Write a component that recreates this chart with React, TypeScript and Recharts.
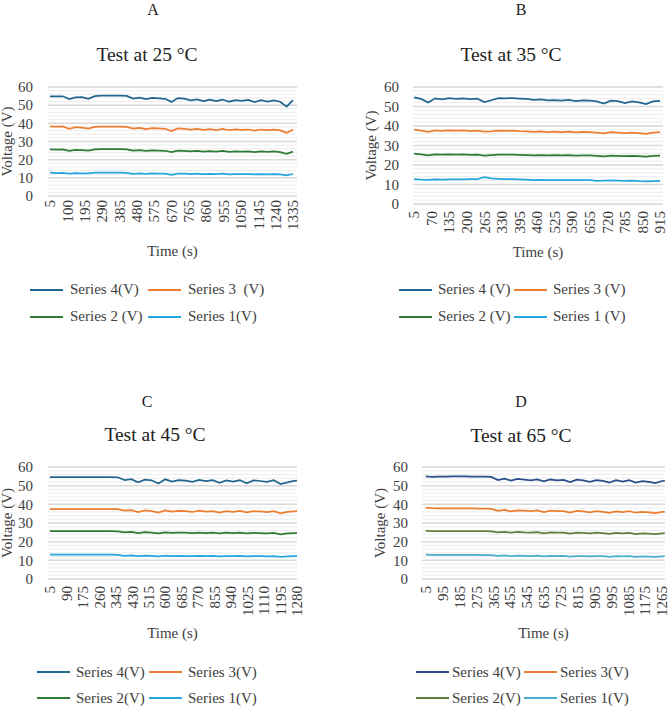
import React from 'react';
import { LineChart, Line, XAxis, YAxis, CartesianGrid, Legend } from 'recharts';

const FONT = '"Liberation Serif", Tinos, "Times New Roman", Times, "DejaVu Serif", serif';

// time stamps (s) for each test
const timeA = [5, 40, 75, 110, 145, 180, 215, 250, 285, 320, 355, 390, 425, 460, 495, 530, 565, 600, 635, 670, 705, 740, 775, 810, 845, 880, 915, 950, 985, 1020, 1055, 1090, 1125, 1160, 1195, 1230, 1265, 1300, 1335];
const timeB = [5, 31, 57, 83, 109, 135, 161, 187, 213, 239, 265, 291, 317, 343, 369, 395, 421, 447, 473, 499, 525, 551, 577, 603, 629, 655, 681, 707, 733, 759, 785, 811, 837, 863, 889, 915];
const timeC = [5, 40, 75, 110, 145, 180, 215, 250, 285, 320, 355, 390, 425, 460, 495, 530, 565, 600, 635, 670, 705, 740, 775, 810, 845, 880, 915, 950, 985, 1020, 1055, 1090, 1125, 1160, 1195, 1230, 1265, 1280];
const timeD = [5, 40, 75, 110, 145, 180, 215, 250, 285, 320, 355, 390, 425, 460, 495, 530, 565, 600, 635, 670, 705, 740, 775, 810, 845, 880, 915, 950, 985, 1020, 1055, 1090, 1125, 1160, 1195, 1230, 1265, 1280];

// 25 °C
const s4A = [54.9, 54.8, 54.9, 53.4, 54.3, 54.4, 53.5, 55.0, 55.2, 55.2, 55.2, 55.2, 55.1, 53.6, 54.2, 53.3, 54.0, 53.8, 53.5, 51.8, 53.9, 53.6, 52.6, 53.2, 52.2, 53.0, 52.3, 53.1, 51.9, 52.8, 52.4, 52.9, 51.7, 52.7, 52.0, 52.6, 51.9, 49.2, 52.8];
const s3A = [38.3, 38.2, 38.3, 37.0, 37.9, 37.6, 37.1, 38.1, 38.2, 38.2, 38.2, 38.2, 38.1, 37.1, 37.5, 36.8, 37.3, 37.2, 37.0, 35.8, 37.2, 37.0, 36.5, 37.0, 36.4, 36.8, 36.3, 36.9, 36.2, 36.7, 36.4, 36.6, 36.0, 36.6, 36.2, 36.5, 36.1, 34.8, 36.5];
const s2A = [25.6, 25.5, 25.6, 24.9, 25.4, 25.2, 25.0, 25.7, 25.8, 25.8, 25.8, 25.8, 25.7, 25.0, 25.3, 24.8, 25.1, 25.0, 24.9, 24.2, 25.0, 24.9, 24.5, 24.8, 24.4, 24.7, 24.4, 24.8, 24.3, 24.6, 24.4, 24.6, 24.2, 24.5, 24.3, 24.5, 24.2, 23.2, 24.4];
const s1A = [12.8, 12.6, 12.7, 12.3, 12.6, 12.5, 12.4, 12.8, 12.8, 12.8, 12.8, 12.8, 12.7, 12.2, 12.5, 12.2, 12.4, 12.3, 12.3, 11.7, 12.3, 12.3, 12.1, 12.3, 12.0, 12.2, 12.0, 12.3, 11.9, 12.1, 12.0, 12.1, 11.9, 12.1, 11.9, 12.1, 11.9, 11.3, 12.1];

// 35 °C
const s4B = [54.7, 53.9, 52.0, 54.2, 53.6, 54.3, 53.9, 54.2, 53.8, 54.0, 52.3, 53.2, 54.3, 54.2, 54.3, 54.1, 53.9, 53.4, 53.6, 53.1, 53.3, 53.0, 53.4, 52.8, 53.2, 53.0, 52.6, 51.5, 53.0, 52.7, 51.8, 52.6, 52.1, 51.2, 52.6, 52.9];
const s3B = [38.1, 37.6, 37.0, 37.8, 37.5, 37.8, 37.6, 37.7, 37.4, 37.6, 37.1, 37.3, 37.6, 37.5, 37.6, 37.4, 37.3, 37.0, 37.2, 36.9, 37.1, 36.9, 37.1, 36.7, 37.0, 36.9, 36.6, 36.2, 36.8, 36.6, 36.3, 36.6, 36.4, 36.0, 36.6, 36.8];
const s2B = [25.8, 25.4, 24.9, 25.4, 25.3, 25.5, 25.3, 25.4, 25.2, 25.3, 24.8, 25.1, 25.3, 25.3, 25.3, 25.2, 25.1, 25.0, 25.1, 24.9, 25.0, 24.9, 25.0, 24.8, 24.9, 24.9, 24.7, 24.4, 24.8, 24.7, 24.5, 24.7, 24.6, 24.3, 24.7, 24.8];
const s1B = [12.7, 12.5, 12.4, 12.6, 12.5, 12.6, 12.6, 12.6, 12.7, 12.8, 13.8, 13.1, 12.9, 12.7, 12.7, 12.6, 12.5, 12.3, 12.4, 12.3, 12.3, 12.2, 12.3, 12.2, 12.2, 12.3, 11.9, 12.0, 12.1, 12.0, 11.9, 12.0, 11.7, 11.6, 11.7, 11.8];

// 45 °C
const s4C = [54.6, 54.6, 54.6, 54.6, 54.6, 54.6, 54.6, 54.6, 54.6, 54.6, 54.5, 53.0, 53.5, 51.8, 53.2, 52.9, 51.2, 53.4, 52.2, 53.0, 52.7, 52.0, 53.1, 52.4, 52.9, 51.5, 52.8, 52.2, 53.0, 51.3, 52.8, 52.5, 52.0, 52.9, 50.9, 51.8, 52.6, 52.7];
const s3C = [37.5, 37.5, 37.5, 37.5, 37.5, 37.5, 37.5, 37.5, 37.5, 37.5, 37.4, 36.6, 36.9, 35.8, 36.7, 36.4, 35.6, 36.8, 36.1, 36.5, 36.3, 35.9, 36.6, 36.1, 36.4, 35.6, 36.4, 36.0, 36.5, 35.7, 36.3, 36.2, 35.8, 36.3, 35.2, 35.9, 36.2, 36.3];
const s2C = [25.6, 25.6, 25.6, 25.6, 25.6, 25.6, 25.6, 25.6, 25.6, 25.6, 25.5, 25.0, 25.2, 24.6, 25.1, 24.9, 24.5, 25.0, 24.7, 24.9, 24.8, 24.6, 24.9, 24.6, 24.8, 24.4, 24.8, 24.6, 24.8, 24.4, 24.7, 24.6, 24.4, 24.7, 23.9, 24.4, 24.6, 24.6];
const s1C = [13.0, 13.0, 13.0, 13.0, 13.0, 13.0, 13.0, 13.0, 13.0, 13.0, 12.9, 12.4, 12.6, 12.2, 12.5, 12.4, 12.1, 12.5, 12.3, 12.4, 12.3, 12.2, 12.4, 12.2, 12.4, 12.1, 12.3, 12.2, 12.4, 12.1, 12.3, 12.3, 12.1, 12.3, 11.8, 12.1, 12.3, 12.4];

// 65 °C
const s4D = [55.0, 54.7, 54.8, 54.9, 55.0, 55.0, 55.0, 54.9, 54.9, 54.8, 54.7, 53.0, 53.8, 52.7, 53.6, 53.3, 52.9, 53.4, 52.3, 53.3, 52.9, 53.1, 51.9, 53.2, 52.8, 52.1, 53.0, 52.6, 51.6, 52.9, 52.2, 53.0, 51.7, 52.4, 52.0, 51.4, 52.5, 52.6];
const s3D = [38.3, 38.0, 37.9, 37.8, 37.8, 37.8, 37.8, 37.8, 37.7, 37.7, 37.6, 36.5, 37.0, 36.2, 36.8, 36.6, 36.3, 36.7, 35.8, 36.6, 36.3, 36.4, 35.6, 36.5, 36.2, 35.7, 36.3, 36.0, 35.4, 36.2, 35.8, 36.3, 35.5, 35.9, 35.7, 35.3, 35.9, 36.0];
const s2D = [25.8, 25.7, 25.7, 25.7, 25.7, 25.7, 25.7, 25.6, 25.6, 25.6, 25.5, 25.0, 25.3, 24.8, 25.2, 25.0, 24.9, 25.1, 24.5, 25.0, 24.9, 24.9, 24.3, 24.9, 24.7, 24.4, 24.8, 24.6, 24.2, 24.7, 24.4, 24.7, 24.1, 24.5, 24.3, 24.1, 24.5, 24.6];
const s1D = [13.0, 12.9, 12.9, 12.9, 12.9, 12.9, 12.9, 12.9, 12.9, 12.8, 12.8, 12.4, 12.6, 12.3, 12.5, 12.4, 12.3, 12.5, 12.1, 12.4, 12.3, 12.4, 12.0, 12.3, 12.2, 12.1, 12.3, 12.2, 11.9, 12.2, 12.1, 12.2, 11.8, 12.1, 12.0, 11.8, 12.1, 12.2];

// axis ticks
const ticksA = [5, 100, 195, 290, 385, 480, 575, 670, 765, 860, 955, 1050, 1145, 1240, 1335];
const ticksB = [5, 70, 135, 200, 265, 330, 395, 460, 525, 590, 655, 720, 785, 850, 915];
const ticksC = [5, 90, 175, 260, 345, 430, 515, 600, 685, 770, 855, 940, 1025, 1110, 1195, 1280];
const ticksD = [5, 95, 185, 275, 365, 455, 545, 635, 725, 815, 905, 995, 1085, 1175, 1265];
const yTicks = [0, 2, 4, 6, 8, 10, 12, 14, 16, 18, 20, 22, 24, 26, 28, 30, 32, 34, 36, 38, 40, 42, 44, 46, 48, 50, 52, 54, 56, 58, 60];
const yMajor = [0, 10, 20, 30, 40, 50, 60];

const namesA = ['Series 4(V)', 'Series 3  (V)', 'Series 2 (V)', 'Series 1(V)'];
const namesB = ['Series 4 (V)', 'Series 3 (V)', 'Series 2 (V)', 'Series 1 (V)'];
const namesCD = ['Series 4(V)', 'Series 3(V)', 'Series 2(V)', 'Series 1(V)'];

const colorsABC = ['#236791', '#ED7D31', '#2F7A35', '#26A6DE'];
const colorsD = ['#2B4F8D', '#ED7D31', '#627D3C', '#48AECC'];

const panels = [
  {
    letter: 'A', title: 'Test at 25 °C', time: timeA, series: [s4A, s3A, s2A, s1A], names: namesA, colors: colorsABC,
    ticks: ticksA, domain: [-6, 1357],
    left: 0, top: 80, height: 260, yw: 48, mr: 39, plotH: 109, xh: 62, xGap: 4, yGap: 15, yLabX: 7, tY: 60,
    letterX: 153, letterTop: 1, titleX: 147, titleTop: 45,
    lx: 30, ly: 196, colW: 118, gap: 7, rowH: 27,
  },
  {
    letter: 'B', title: 'Test at 35 °C', time: timeB, series: [s4B, s3B, s2B, s1B], names: namesB, colors: colorsABC,
    ticks: ticksB, domain: [1, 926],
    left: 336, top: 80, height: 260, yw: 77, mr: 9, plotH: 117, xh: 55, xGap: 7, yGap: 14, yLabX: 35, tY: 53,
    letterX: 521, letterTop: 1, titleX: 511, titleTop: 45,
    lx: 63, ly: 196, colW: 115, gap: 6, rowH: 27,
  },
  {
    letter: 'C', title: 'Test at 45 °C', time: timeC, series: [s4C, s3C, s2C, s1C], names: namesCD, colors: colorsABC,
    ticks: ticksC, domain: [-5, 1280],
    left: 0, top: 460, height: 246, yw: 48, mr: 39, plotH: 112, xh: 62, xGap: 7, yGap: 15, yLabX: 7, tY: 59,
    letterX: 147, letterTop: 393, titleX: 155, titleTop: 425,
    lx: 37, ly: 199, colW: 112, gap: 6, rowH: 26,
  },
  {
    letter: 'D', title: 'Test at 65 °C', time: timeD, series: [s4D, s3D, s2D, s1D], names: namesCD, colors: colorsD,
    ticks: ticksD, domain: [-15, 1281],
    left: 336, top: 460, height: 246, yw: 86, mr: 7, plotH: 112, xh: 62, xGap: 7, yGap: 14, yLabX: 44, tY: 59,
    letterX: 521, letterTop: 393, titleX: 521, titleTop: 426,
    lx: 80, ly: 199, colW: 108, gap: 3, rowH: 26,
  },
];

const KEYS = ['s4', 's3', 's2', 's1'];

function XTick(props: any) {
  const { x, y, payload } = props;
  return (
    <text x={x} y={y} transform={`rotate(-90, ${x}, ${y})`} textAnchor="end" dy="0.35em"
      fontSize={15} fill="#404040" fontFamily={FONT}>
      {payload.value}
    </text>
  );
}

function YTitle(props: any) {
  const { viewBox, cx } = props;
  const cy = viewBox.y + viewBox.height / 2;
  return (
    <text x={cx} y={cy} transform={`rotate(-90, ${cx}, ${cy})`} textAnchor="middle" dy="0.35em"
      fontSize={15} fill="#404040" fontFamily={FONT}>
      Voltage (V)
    </text>
  );
}

function XTitle(props: any) {
  const { viewBox, tY } = props;
  return (
    <text x={viewBox.x + viewBox.width / 2} y={viewBox.y + tY} textAnchor="middle"
      fontSize={15} fill="#404040" fontFamily={FONT}>
      Time (s)
    </text>
  );
}

function LegendBox({ p }: any) {
  return (
    <div style={{ display: 'grid', gridTemplateColumns: `${p.colW}px ${p.colW}px`, fontFamily: FONT, fontSize: 15, color: '#404040' }}>
      {p.names.map((n: string, i: number) => (
        <div key={n} style={{ display: 'flex', alignItems: 'center', height: p.rowH, whiteSpace: 'pre' }}>
          <span style={{ display: 'inline-block', width: 33, height: 2, background: p.colors[i], marginRight: p.gap }} />
          <span>{n}</span>
        </div>
      ))}
    </div>
  );
}

function Panel({ p }: any) {
  const rows = p.time.map((t: number, i: number) => ({
    t, s4: p.series[0][i], s3: p.series[1][i], s2: p.series[2][i], s1: p.series[3][i],
  }));
  const mb = p.height - 7 - p.plotH - p.xh;
  return (
    <>
      <div style={{ position: 'absolute', left: p.letterX - 50, top: p.letterTop, width: 100, textAlign: 'center', fontSize: 16, lineHeight: '18px', color: '#222' }}>
        {p.letter}
      </div>
      <div style={{ position: 'absolute', left: p.titleX - 120, top: p.titleTop, width: 240, textAlign: 'center', fontSize: 19.5, lineHeight: '20px', color: '#222' }}>
        {p.title}
      </div>
      <div style={{ position: 'absolute', left: p.left, top: p.top }}>
        <LineChart width={336} height={p.height} data={rows} margin={{ top: 7, right: p.mr, left: 0, bottom: mb }}>
          <CartesianGrid vertical={false} stroke="#ececec" strokeWidth={1} />
          <CartesianGrid vertical={false} horizontalValues={yMajor} stroke="#d9d9d9" strokeWidth={1.5} />
          <XAxis dataKey="t" type="number" domain={p.domain} ticks={p.ticks} interval={0}
            tickLine={false} axisLine={false} tickSize={0} tickMargin={p.xGap} height={p.xh}
            tick={<XTick />} label={<XTitle tY={p.tY} />} allowDataOverflow />
          <YAxis type="number" domain={[0, 60]} ticks={yTicks} interval={0} width={p.yw}
            tickLine={false} axisLine={false} tickSize={0} tickMargin={p.yGap}
            tickFormatter={(v: number) => (v % 10 === 0 ? String(v) : '')}
            tick={{ fontSize: 15, fill: '#404040', fontFamily: FONT }}
            label={<YTitle cx={p.yLabX} />} />
          {KEYS.map((k, i) => (
            <Line key={k} type="linear" dataKey={k} name={p.names[i]} stroke={p.colors[i]} strokeWidth={1.75}
              dot={false} activeDot={false} isAnimationActive={false} />
          ))}
          <Legend layout="horizontal" verticalAlign="middle" align="center"
            wrapperStyle={{ left: p.lx, top: p.ly, width: p.colW * 2, height: p.rowH * 2 }}
            content={() => <LegendBox p={p} />} />
        </LineChart>
      </div>
    </>
  );
}

export default function App() {
  return (
    <div style={{ position: 'absolute', left: 0, top: 0, width: 672, height: 706, background: '#fff', fontFamily: FONT, overflow: 'hidden' }}>
      {panels.map((p) => (
        <Panel key={p.letter} p={p} />
      ))}
    </div>
  );
}
